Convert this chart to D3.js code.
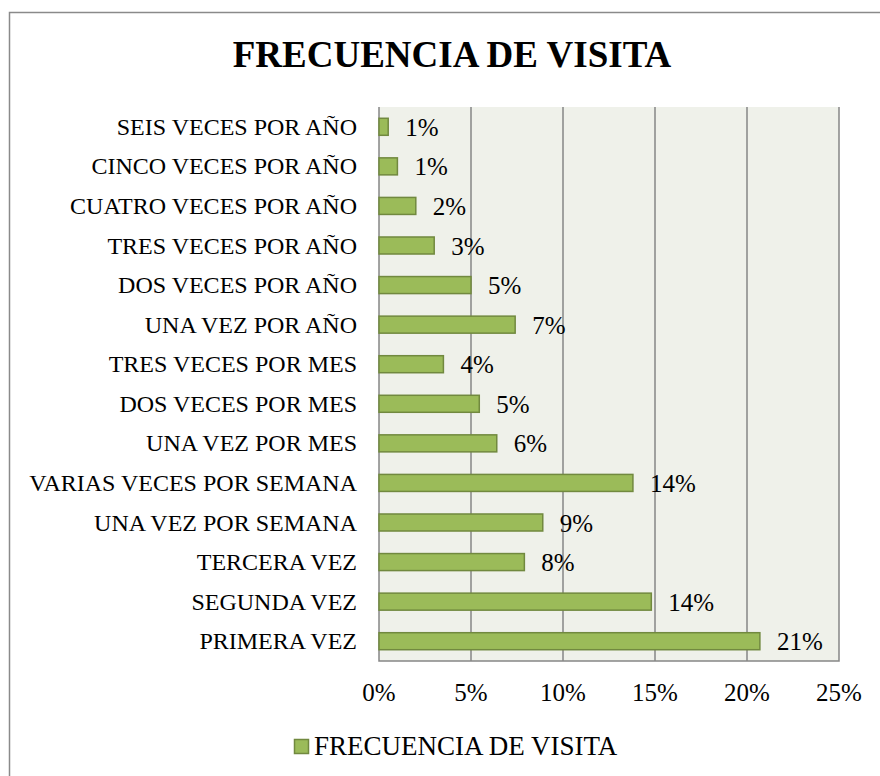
<!DOCTYPE html>
<html>
<head>
<meta charset="utf-8">
<script src="https://cdn.jsdelivr.net/npm/d3@7/dist/d3.min.js"></script>
<style>
  html, body { margin: 0; padding: 0; background: #ffffff; }
  svg { display: block; }
  text { font-family: "Liberation Serif", "Times New Roman", "DejaVu Serif", serif; fill: #000; }
</style>
</head>
<body>
<svg id="chart" width="880" height="776"></svg>
<script>
// ---- data (top to bottom, as shown) ----
const categories = [
  "SEIS VECES POR AÑO",
  "CINCO VECES POR AÑO",
  "CUATRO VECES POR AÑO",
  "TRES VECES POR AÑO",
  "DOS VECES POR AÑO",
  "UNA VEZ POR AÑO",
  "TRES VECES POR MES",
  "DOS VECES POR MES",
  "UNA VEZ POR MES",
  "VARIAS VECES POR SEMANA",
  "UNA VEZ POR SEMANA",
  "TERCERA VEZ",
  "SEGUNDA VEZ",
  "PRIMERA VEZ"
];
const values = [0.5, 1.0, 2.0, 3.0, 5.0, 7.4, 3.5, 5.45, 6.4, 13.8, 8.9, 7.9, 14.8, 20.7];
const valueLabels = ["1%", "1%", "2%", "3%", "5%", "7%", "4%", "5%", "6%", "14%", "9%", "8%", "14%", "21%"];
const xTicks = [0, 5, 10, 15, 20, 25];
const xTickLabels = ["0%", "5%", "10%", "15%", "20%", "25%"];
const seriesName = "FRECUENCIA DE VISITA";
const chartTitle = "FRECUENCIA DE VISITA";

// ---- layout ----
const svg = d3.select("#chart");
const plot = { left: 379, right: 839, top: 107, bottom: 661 };
const barFill = "#9BBB59";
const barStroke = "#71893F";
const gridColor = "#868686";

// outer chart border
svg.append("rect")
  .attr("x", 9.5).attr("y", 12.5)
  .attr("width", 880).attr("height", 780)
  .attr("fill", "#fff")
  .attr("stroke", "#8a8a8a").attr("stroke-width", 1.5);

const x = d3.scaleLinear().domain([0, 25]).range([plot.left, plot.right]);
const y = d3.scaleBand().domain(categories)
  .range([plot.top, plot.bottom])
  .paddingInner(0.57).paddingOuter(0.285);

// plot background
svg.append("rect")
  .attr("x", plot.left).attr("y", plot.top)
  .attr("width", plot.right - plot.left).attr("height", plot.bottom - plot.top)
  .attr("fill", "#EFF1EA");

// vertical gridlines
svg.append("g").selectAll("line")
  .data(xTicks.slice(1, -1))
  .join("line")
  .attr("x1", d => x(d)).attr("x2", d => x(d))
  .attr("y1", plot.top).attr("y2", plot.bottom)
  .attr("stroke", gridColor).attr("stroke-width", 1.5);

// plot border (right, bottom, left axis)
svg.append("path")
  .attr("d", `M${plot.left},${plot.top} V${plot.bottom} H${plot.right} V${plot.top}`)
  .attr("fill", "none")
  .attr("stroke", gridColor).attr("stroke-width", 1.5);

// bars
svg.append("g").selectAll("rect")
  .data(categories)
  .join("rect")
  .attr("x", x(0))
  .attr("y", d => y(d))
  .attr("width", (d, i) => x(values[i]) - x(0))
  .attr("height", y.bandwidth())
  .attr("fill", barFill)
  .attr("stroke", barStroke).attr("stroke-width", 1.5);

// data labels
svg.append("g").selectAll("text")
  .data(categories)
  .join("text")
  .attr("x", (d, i) => x(values[i]) + 17)
  .attr("y", d => y(d) + y.bandwidth() / 2 + 9)
  .attr("font-size", 25)
  .text((d, i) => valueLabels[i]);

// category labels
svg.append("g").selectAll("text")
  .data(categories)
  .join("text")
  .attr("x", plot.left - 22)
  .attr("y", d => y(d) + y.bandwidth() / 2 + 8)
  .attr("text-anchor", "end")
  .attr("font-size", 24)
  .text(d => d);

// x tick labels
svg.append("g").selectAll("text")
  .data(xTicks)
  .join("text")
  .attr("x", d => x(d))
  .attr("y", 701)
  .attr("text-anchor", "middle")
  .attr("font-size", 25)
  .text((d, i) => xTickLabels[i]);

// title
svg.append("text")
  .attr("x", 452).attr("y", 67)
  .attr("text-anchor", "middle")
  .attr("font-size", 37)
  .attr("font-weight", "bold")
  .text(chartTitle);

// legend
svg.append("rect")
  .attr("x", 294.5).attr("y", 739.5)
  .attr("width", 14).attr("height", 14)
  .attr("fill", barFill)
  .attr("stroke", barStroke).attr("stroke-width", 1.5);
svg.append("text")
  .attr("x", 314).attr("y", 755)
  .attr("font-size", 27)
  .text(seriesName);
</script>
</body>
</html>
